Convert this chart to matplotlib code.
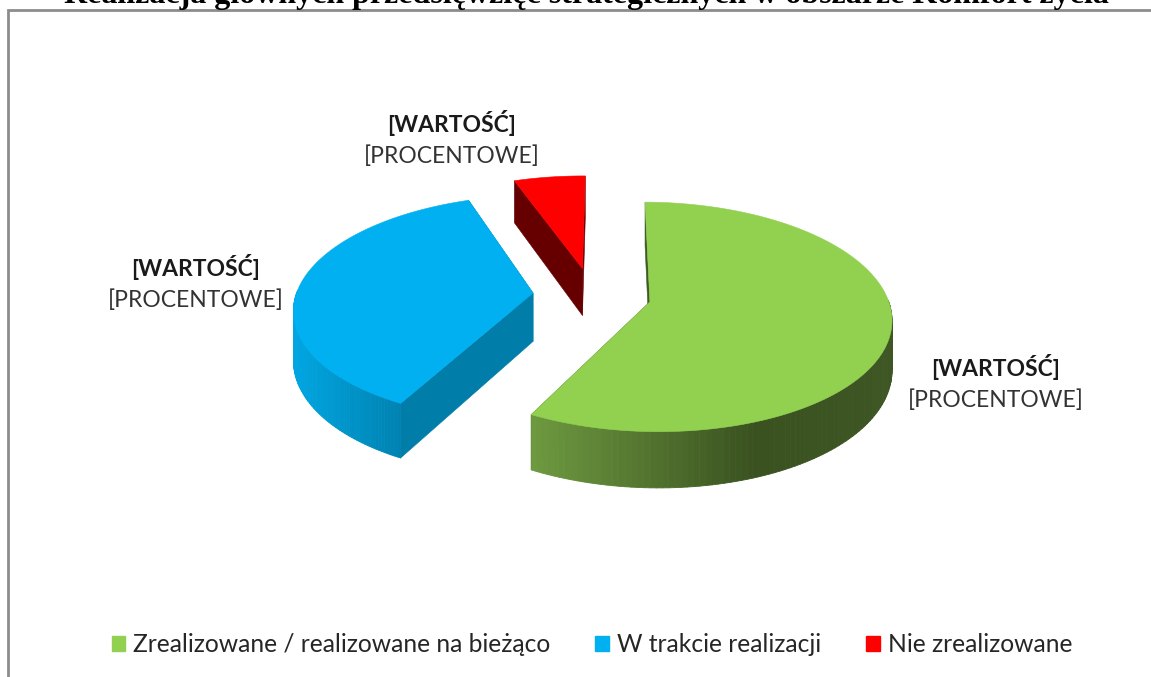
import numpy as np
import matplotlib
matplotlib.use("Agg")
import matplotlib.pyplot as plt
from matplotlib.patches import Polygon, Patch
from matplotlib.collections import PolyCollection
from matplotlib.colors import LinearSegmentedColormap

title = "Realizacja głównych przedsięwzięć strategicznych w obszarze Komfort życia"
categories = ["Zrealizowane / realizowane na bieżąco", "W trakcie realizacji", "Nie zrealizowane"]
values = [57.6, 36.8, 5.6]
label_top = "[WARTOŚĆ]"
label_bottom = "[PROCENTOWE]"

top_colors = ["#92D050", "#00B0F0", "#FF0000"]
cut_colors = ["#3F5A24", "#007DA8", "#660000"]
wall_cmaps = [
    LinearSegmentedColormap.from_list("g", [(0, "#6E9A40"), (0.62, "#3A5220"), (1, "#3D5623")]),
    LinearSegmentedColormap.from_list("b", [(0, "#00A6E2"), (1, "#0083B2")]),
    LinearSegmentedColormap.from_list("r", ["#660000", "#660000"]),
]
wall_x_range = [(530, 890), (293, 400), (515, 584)]
label_pos = [(996, 384), (196, 284), (452, 140)]

CX, CY, A, B, K, H = 592, 295, 237, 111, 0.13, 48.5
EXPLODE, START = 0.25, 89.5


def project(u, v, z=0.0):
    s = 1.0 / (1.0 + K * v)
    return CX + A * u * s, CY + (-B * v + H * z) * s


fig = plt.figure(figsize=(11.51, 6.77), dpi=100, facecolor="white")
ax = fig.add_axes([0, 0, 1, 1])
ax.set_xlim(0, 1151)
ax.set_ylim(677, 0)
ax.axis("off")

ax.plot([8.5, 8.5, 1160], [690, 9.5, 9.5], color="#8C8C8C", lw=2.0, solid_joinstyle="miter")

ax.text(586.5, 3, title, family="Liberation Serif", weight="bold", fontsize=23,
        ha="center", va="baseline", color="black")

total = sum(values)
angle = START
for val, top_c, cut_c, cmap, xr in zip(values, top_colors, cut_colors, wall_cmaps, wall_x_range):
    sweep = 360.0 * val / total
    th = np.radians(np.linspace(angle, angle - sweep, 160))
    mid = np.radians(angle - sweep / 2)
    u0, v0 = EXPLODE * np.cos(mid), EXPLODE * np.sin(mid)
    us, vs = u0 + np.cos(th), v0 + np.sin(th)

    xt, yt = project(us, vs)
    xb, yb = project(us, vs, 1.0)
    tx, ty = project(u0, v0)
    tbx, tby = project(u0, v0, 1.0)

    for j in (0, -1):
        ax.add_patch(Polygon([(tx, ty), (xt[j], yt[j]), (xb[j], yb[j]), (tbx, tby)],
                             closed=True, fc=cut_c, ec=cut_c, lw=0.4, zorder=2))

    quads, cols = [], []
    for i in range(len(th) - 1):
        if np.sin(th[i]) > 0.02:
            continue
        quads.append([(xt[i], yt[i]), (xt[i + 1], yt[i + 1]), (xb[i + 1], yb[i + 1]), (xb[i], yb[i])])
        cols.append(cmap(np.clip(((xt[i] + xt[i + 1]) / 2 - xr[0]) / (xr[1] - xr[0]), 0, 1)))
    if quads:
        ax.add_collection(PolyCollection(quads, facecolors=cols, edgecolors=cols, linewidths=0.6, zorder=3))

    ax.add_patch(Polygon(np.vstack([[tx, ty], np.column_stack([xt, yt])]),
                         closed=True, fc=top_c, ec=top_c, lw=0.4, zorder=4))
    angle -= sweep

for (lx, ly) in label_pos:
    ax.text(lx, ly - 17, label_top, family="Lato", weight="bold", fontsize=16.5,
            ha="center", va="center", color="#1a1a1a")
    ax.text(lx, ly + 16, label_bottom, family="Lato", fontsize=16.5,
            ha="center", va="center", color="#333333")

handles = [Patch(fc=c, ec=c) for c in top_colors]
ax.legend(handles, categories, loc="center", bbox_to_anchor=(592 / 1151, 1 - 645 / 677), ncol=3,
          frameon=False, prop={"family": "Lato", "size": 17.7}, handlelength=0.55, handleheight=0.55,
          handletextpad=0.33, columnspacing=1.83, labelcolor="#262626")

fig.savefig("out.png", dpi=100, facecolor="white")
